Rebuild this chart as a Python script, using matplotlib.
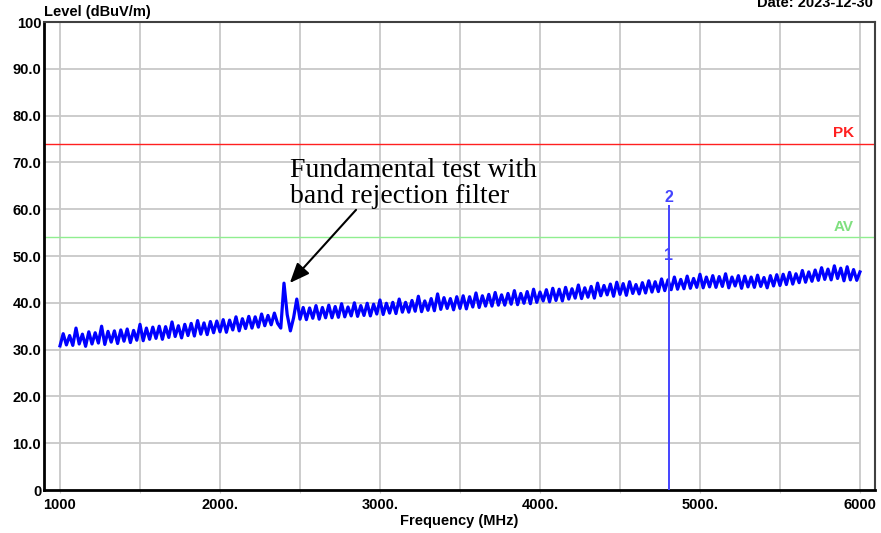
import matplotlib.pyplot as plt
import numpy as np

# trace, one point every 20 MHz from 1000 to 6000 MHz
freq_start, freq_stop, freq_step = 1000, 6000, 20
level = [
    30.8, 33.4, 31.0, 33.0, 30.9, 34.6, 31.2, 33.3, 30.7, 33.8,
    31.2, 33.6, 31.4, 35.0, 31.1, 33.9, 31.6, 34.0, 31.3, 34.2,
    31.8, 34.4, 31.5, 34.1, 32.0, 35.4, 31.9, 34.6, 32.2, 34.8,
    32.4, 35.0, 32.2, 34.9, 32.6, 35.9, 32.8, 35.1, 32.5, 35.4,
    33.0, 35.6, 32.9, 36.2, 33.3, 35.7, 33.2, 36.0, 33.6, 36.1,
    33.8, 36.4, 33.7, 36.3, 34.2, 37.0, 34.0, 36.6, 34.5, 37.1,
    34.6, 37.0, 34.8, 37.6, 35.1, 37.3, 35.3, 37.8, 35.6, 34.6,
    44.2, 37.5, 34.0, 36.8, 40.8,
    36.5, 39.0, 36.4, 38.9, 36.7, 39.4, 36.5, 39.0, 36.8, 39.5,
    36.8, 39.2, 36.9, 39.8, 37.0, 39.1, 37.2, 40.0, 37.1, 39.4,
    37.3, 39.9, 37.2, 39.7, 37.6, 40.6, 37.5, 39.9, 37.8, 40.1,
    37.7, 40.8, 38.0, 40.1, 38.0, 40.5, 38.2, 41.4, 38.1, 40.4,
    38.4, 40.9, 38.3, 41.9, 38.6, 41.1, 38.8, 40.9, 38.5, 41.3,
    38.8, 41.5, 38.7, 41.3, 39.1, 42.1, 39.0, 41.5, 39.3, 41.8,
    39.3, 42.2, 39.5, 41.7, 39.5, 42.0, 39.7, 42.6, 39.6, 42.0,
    39.9, 42.4, 39.8, 42.9, 40.1, 42.3, 40.4, 42.8, 40.2, 43.1,
    40.5, 42.9, 40.4, 43.3, 40.8, 43.0, 41.0, 43.8, 40.9, 43.2,
    41.2, 43.5, 41.0, 44.2, 41.5, 43.7, 41.7, 44.0, 41.4, 44.4,
    41.8, 44.1, 41.6, 44.5, 42.0, 43.9, 41.9, 44.3, 42.1, 44.7,
    42.3, 44.5, 42.4, 45.1, 42.6, 44.9, 42.8, 45.5, 42.9, 45.0,
    43.0, 45.7, 43.1, 45.2, 43.3, 46.1, 43.2, 45.5, 43.4, 45.8,
    43.3, 45.6, 43.5, 46.2, 43.2, 45.5, 43.6, 45.8, 43.1, 45.7,
    43.4, 45.5, 43.3, 45.9, 43.5, 45.4, 43.2, 45.8, 43.6, 46.0,
    43.7, 46.1, 43.9, 46.5, 44.0, 46.2, 44.3, 46.9, 44.4, 46.6,
    44.6, 47.0, 44.8, 47.5, 45.0, 47.2, 44.9, 47.9, 45.2, 47.4,
    44.7, 47.7, 44.9, 47.1, 44.8, 46.6,
]
freq = np.arange(freq_start, freq_stop + 1, freq_step)

pk_limit = 74.0
av_limit = 54.0
marker_freq = 4806
marker_levels = [50.0, 60.9]   # marker 1, marker 2 (top of line)
marker_names = ["1", "2"]

x_ticks = [1000, 2000, 3000, 4000, 5000, 6000]
x_ticklabels = ["1000", "2000.", "3000.", "4000.", "5000.", "6000"]
y_ticks = [0, 10, 20, 30, 40, 50, 60, 70, 80, 90, 100]
y_ticklabels = ["0", "10.0", "20.0", "30.0", "40.0", "50.0", "60.0", "70.0", "80.0", "90.0", "100"]

plt.rcParams['font.family'] = ['Liberation Sans', 'DejaVu Sans']

fig = plt.figure(figsize=(8.81, 5.33), dpi=100)
ax = fig.add_axes([44/881, 1 - 490/533, 831/881, 468/533])
ax.set_xlim(900, 6094)
ax.set_ylim(0, 100)

# grid: verticals every 500 MHz, horizontals stop at 6000
gc = '#c8c8c8'
for f in range(1000, 6001, 500):
    ax.axvline(f, color=gc, lw=1.3, zorder=0)
for y in y_ticks[1:-1]:
    ax.hlines(y, 900, 6000, color=gc, lw=1.3, zorder=0)

ax.axhline(pk_limit, color='#ff2020', lw=1.0, zorder=1)
ax.axhline(av_limit, color='#90ee90', lw=1.0, zorder=1)
ax.text(5962, 76.2, "PK", color='#ff2020', fontsize=11, fontweight='bold', ha='right', va='center')
ax.text(5962, 56.2, "AV", color='#80e080', fontsize=11, fontweight='bold', ha='right', va='center')

ax.plot(freq, level, color='#0000ff', lw=2.3, zorder=3)

# marker line
mc = '#4444ff'
ax.vlines(marker_freq, 0, marker_levels[1], color=mc, lw=1.4, zorder=4)
ax.text(marker_freq, marker_levels[0], marker_names[0], color=mc, fontsize=11.5, fontweight='bold',
        ha='center', va='center', zorder=5)
ax.text(marker_freq, 62.4, marker_names[1], color=mc, fontsize=11.5, fontweight='bold',
        ha='center', va='center', zorder=5)

ax.annotate("", xy=(2425, 43.8), xytext=(2862, 60.3),
            arrowprops=dict(arrowstyle='-|>,head_length=1.2,head_width=0.5', color='black', lw=1.5))
ax.text(2438, 71.0, "Fundamental test with\nband rejection filter", family='Liberation Serif',
        fontsize=20, ha='left', va='top', linespacing=1.05, zorder=6)

ax.set_xticks(x_ticks)
ax.set_xticklabels(x_ticklabels, fontsize=10.5, fontweight='bold')
ax.set_xticks(range(1500, 6000, 1000), minor=True)
ax.set_yticks(y_ticks)
ax.set_yticklabels(y_ticklabels, fontsize=10.5, fontweight='bold')
ax.tick_params(axis='x', which='both', length=2, color=gc, pad=4)
ax.tick_params(axis='y', length=0, pad=2)
ax.set_xlabel("Frequency (MHz)", fontsize=10.5, fontweight='bold', labelpad=1)

for s in ['left', 'bottom']:
    ax.spines[s].set_linewidth(2)
    ax.spines[s].set_color('black')
for s in ['top', 'right']:
    ax.spines[s].set_linewidth(1.5)
    ax.spines[s].set_color('#404040')

fig.text(44/881, 1 - 12/533, "Level (dBuV/m)", fontsize=10.5, fontweight='bold', ha='left', va='center')
fig.text(873/881, 1 - 3/533, "Date: 2023-12-30", fontsize=10.5, fontweight='bold', ha='right', va='center')

fig.savefig("out.png", dpi=100)
